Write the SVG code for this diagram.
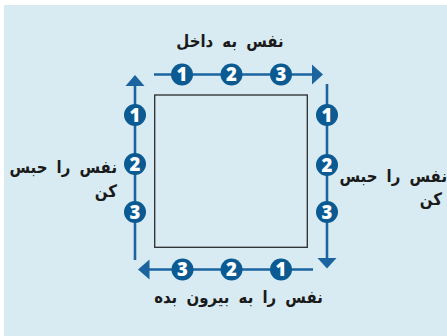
<svg xmlns="http://www.w3.org/2000/svg" width="447" height="336" viewBox="0 0 447 336">
<style>
.ln{stroke:#1b64a0;stroke-width:2.6;fill:none}
.ah{fill:#1b64a0}
.c{fill:#0b5a92}
.n{fill:#fff;font-family:"Open Sans","Liberation Sans",sans-serif;font-weight:800;font-size:18.5px;text-anchor:middle}
.lb{fill:#1a1a1a;font-family:"DejaVu Sans",sans-serif;font-weight:700;font-size:17px;word-spacing:4.5px}
</style>
<rect x="0" y="0" width="447" height="336" fill="#ffffff"/>
<rect x="4" y="5" width="443" height="331" fill="#d8ebf3"/>
<g id="square"><rect x="154.7" y="95" width="152.6" height="152.3" fill="none" stroke="#2a2a2a" stroke-width="1.3"/></g>
<g id="connectors">
<line class="ln" x1="154" y1="74.5" x2="313" y2="74.5"/>
<polygon class="ah" points="323,74.5 312,64.5 312,84.5"/>
<line class="ln" x1="135" y1="260" x2="135" y2="85"/>
<polygon class="ah" points="135,75 125.5,86 144.5,86"/>
<line class="ln" x1="327" y1="84" x2="327" y2="259"/>
<polygon class="ah" points="327,268.5 317.5,258 336.5,258"/>
<line class="ln" x1="313" y1="269.5" x2="148" y2="269.5"/>
<polygon class="ah" points="138,269.5 149.5,259.5 149.5,279.5"/>
</g>
<g id="top-steps">
<circle class="c" cx="182" cy="74.5" r="11"/><text class="n" x="182" y="81">1</text>
<circle class="c" cx="231.5" cy="74.5" r="11"/><text class="n" x="231.5" y="81">2</text>
<circle class="c" cx="281" cy="74.5" r="11"/><text class="n" x="281" y="81">3</text>
</g>
<g id="left-steps">
<circle class="c" cx="135" cy="115" r="11"/><text class="n" x="135" y="121.5">1</text>
<circle class="c" cx="135" cy="164" r="11"/><text class="n" x="135" y="170.5">2</text>
<circle class="c" cx="135" cy="212" r="11"/><text class="n" x="135" y="218.5">3</text>
</g>
<g id="right-steps">
<circle class="c" cx="327" cy="115" r="11"/><text class="n" x="327" y="121.5">1</text>
<circle class="c" cx="327" cy="165" r="11"/><text class="n" x="327" y="171.5">2</text>
<circle class="c" cx="327" cy="212" r="11"/><text class="n" x="327" y="218.5">3</text>
</g>
<g id="bottom-steps">
<circle class="c" cx="281" cy="269.5" r="11"/><text class="n" x="281" y="276">1</text>
<circle class="c" cx="231.5" cy="269.5" r="11"/><text class="n" x="231.5" y="276">2</text>
<circle class="c" cx="182.5" cy="269.5" r="11"/><text class="n" x="182.5" y="276">3</text>
</g>
<g id="label-top"><text class="lb" transform="translate(230,47) scale(0.88,1)" text-anchor="middle">نفس به داخل</text></g>
<g id="label-left">
<text class="lb" transform="translate(117,173) scale(0.88,1)" text-anchor="end">نفس را حبس</text>
<text class="lb" transform="translate(117,197) scale(0.88,1)" text-anchor="end">کن</text>
</g>
<g id="label-right">
<text class="lb" transform="translate(447,182) scale(0.88,1)" text-anchor="end">نفس را حبس</text>
<text class="lb" transform="translate(442,205) scale(0.88,1)" text-anchor="end">کن</text>
</g>
<g id="label-bottom"><text class="lb" transform="translate(238.5,303) scale(0.88,1)" text-anchor="middle">نفس را به بیرون بده</text></g>
</svg>
